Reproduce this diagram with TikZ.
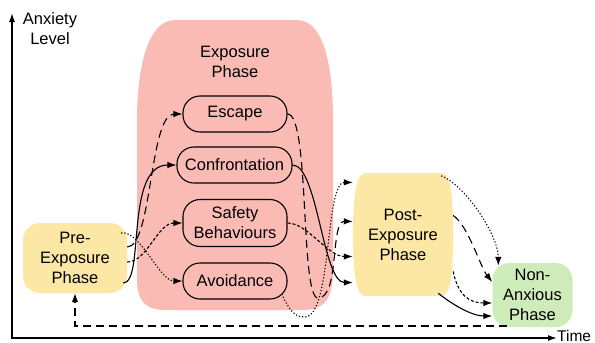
\documentclass[tikz,border=0pt]{standalone}
\usepackage{fontspec}
\setmainfont{Liberation Sans}
\usepackage{tikz}
\usetikzlibrary{arrows.meta, backgrounds}
\definecolor{expPink}{RGB}{249,187,179}
\definecolor{phaseYellow}{RGB}{252,232,164}
\definecolor{calmGreen}{RGB}{205,236,186}

\begin{document}
\begin{tikzpicture}[x=1pt, y=-1pt,
    txt/.style={font=\fontsize{16.5}{20}\selectfont, align=center, inner sep=0pt},
    beh/.style={txt, draw, line width=1.1pt, rounded corners=17pt, inner xsep=8pt,
      minimum width=104pt, minimum height=36pt},
    phase/.style={txt, rounded corners=17pt},
    arr/.style={line width=1.1pt, -{Latex[length=9pt, width=6.5pt]}},
    longdash/.style={arr, dash pattern=on 8pt off 5pt},
    shortdash/.style={arr, dash pattern=on 3pt off 2pt},
    dots/.style={arr, dash pattern=on 1.2pt off 2pt},
    axis/.style={line width=1.4pt, {Latex[length=9pt, width=6pt]}-{Latex[length=9pt, width=6pt]}}
  ]
    \useasboundingbox (0,0) rectangle (595,343);
    % exposure blob
    \fill[expPink] (175,20) -- (297,20) .. controls (325,20) and (333,70) .. (333,120)
      -- (333,270) .. controls (333,298) and (325,310) .. (303,310) -- (165,310)
      .. controls (145,310) and (137,300) .. (137,280) -- (137,120)
      .. controls (137,70) and (147,20) .. (175,20);
    \node[txt] (explbl) at (235,62) {Exposure\\Phase};
    % axes
    \coordinate (ytop) at (12,13);
    \coordinate (xend) at (557,338);
    \draw[axis] (ytop) |- (xend);
    \node[txt, font=\fontsize{15.5}{18}\selectfont, anchor=west, yshift=2.5pt] (time) at (xend) {Time};
    \node[txt] (anx) at (50,29) {Anxiety\\Level};
    % phases
    \node[phase, fill=phaseYellow, minimum width=104pt, minimum height=70pt] (pre) at (75,258) {Pre-\\Exposure\\Phase};
    \node[phase, minimum width=100pt, minimum height=123pt] (post) at (403,234.5) {Post-\\Exposure\\Phase};
    \begin{scope}[on background layer]
      \fill[phaseYellow] (366,173) -- (441,173) .. controls (450,173) and (453,190) .. (453,234)
        .. controls (453,280) and (450,296) .. (441,296) -- (366,296)
        .. controls (357,296) and (353,280) .. (353,234) .. controls (353,190) and (357,173) .. (366,173);
    \end{scope}
    \node[phase, fill=calmGreen, minimum width=80pt, minimum height=64pt] (calm) at (532.5,295) {Non-\\Anxious\\Phase};
    % behaviours
    \node[beh] (esc) at (235,114) {Escape};
    \node[beh] (conf) at (234.5,165) {Confrontation};
    \node[beh, minimum height=47pt] (safe) at (235,223) {Safety\\Behaviours};
    \node[beh] (avoid) at (235,281) {Avoidance};
    % pre -> behaviours
    \draw[arr] ([shift={(-4pt,-25pt)}]pre.east) .. controls +(22,0) and +(-52,0) .. (conf.west);
    \draw[longdash] ([yshift=11pt]pre.east) .. controls +(25,0) and +(-33,0) .. (esc.west);
    \draw[dots] ([shift={(-6pt,25pt)}]pre.east) .. controls +(19,-3) and +(-23,0) .. (avoid.west);
    \draw[shortdash] ([yshift=-4pt]pre.east) .. controls +(20,0) and +(-25,0) .. (safe.west);
    % behaviours -> post
    \draw[longdash] (esc.east) .. controls (310,114) and (300,298) .. (318,298)
      .. controls (340,298) and (330,221) .. ([yshift=13pt]post.west);
    \draw[arr] (conf.east) .. controls +(25,0) and +(-30,0) .. ([yshift=-48pt]post.west);
    \draw[shortdash] (safe.east) .. controls +(20,0) and +(-25,0) .. ([yshift=-22pt]post.west);
    \draw[dots] ([shift={(-6pt,-13pt)}]avoid.east) .. controls (292,316) and (298,317) .. (305,317)
      .. controls (332,316) and (325,182) .. ([yshift=52pt]post.west);
    % post -> non-anxious
    \draw[dots] ([shift={(-12pt,-3pt)}]post.north east) .. controls +(25,10) and +(0,-30) .. ([shift={(6pt,-3pt)}]calm.north west);
    \draw[longdash] ([yshift=19pt]post.east) .. controls +(15,10) and +(-12,-15) .. ([yshift=13pt]calm.west);
    \draw[shortdash] ([yshift=-37pt]post.east) .. controls +(5,24) and +(-23,0) .. ([yshift=-8pt]calm.west);
    \draw[arr] ([shift={(-15pt,3pt)}]post.south east) .. controls +(15,12) and +(-20,0) .. ([yshift=-21pt]calm.west);
    % back to the start
    \coordinate (ret) at (507,326);
    \draw[longdash] (ret) -| (pre.south);
  \end{tikzpicture}
\end{document}
